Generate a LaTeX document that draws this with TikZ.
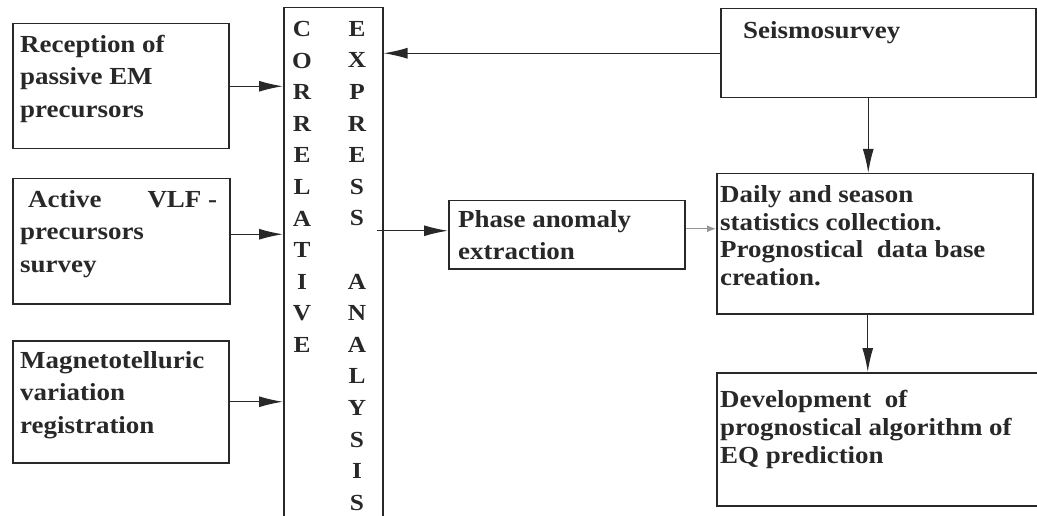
\documentclass[tikz,border=0pt]{standalone}
\usepackage{fontspec}
\setmainfont{Liberation Serif}[FakeStretch=1.1]
\usetikzlibrary{arrows.meta}
\definecolor{ink}{RGB}{40, 40, 40}
\definecolor{faint}{RGB}{150, 150, 150}
\tikzset{
  frame/.style={draw=ink, line width=1.5pt, anchor=north west, inner sep=0pt},
  txt/.style={anchor=north west, align=left, inner sep=0pt, text=ink,
    font=\bfseries\fontsize{24.5}{32.5}\selectfont},
  tight/.style={font=\bfseries\fontsize{24.5}{27.8}\selectfont},
  letters/.style={anchor=north, align=center, inner sep=0pt, text=ink,
    font=\bfseries\fontsize{23}{31.6}\selectfont},
  flow/.style={draw=ink, line width=1.3pt, -{Latex[length=24pt,width=11pt]}},
  faintflow/.style={draw=faint, line width=1.2pt, -{Latex[length=9pt,width=7pt]}},
}
\begin{document}
\begin{tikzpicture}[x=1pt, y=-1pt]
        \useasboundingbox (0,0) rectangle (1037,516);
        \clip (0,0) rectangle (1037,516);
        % frames
        \node[frame, minimum width=216pt, minimum height=125pt] (recep)   at (12,23)  {};
        \node[frame, minimum width=217pt, minimum height=125pt] (active)  at (12,178) {};
        \node[frame, minimum width=216pt, minimum height=122pt] (magneto) at (12,340) {};
        \node[frame, minimum width=99pt,  minimum height=530pt] (corr)    at (283,7)  {};
        \node[frame, minimum width=236pt, minimum height=68pt]  (phase)   at (448,200) {};
        \node[frame, minimum width=315pt, minimum height=89pt]  (seismo)  at (720,8)  {};
        \node[frame, minimum width=316pt, minimum height=140pt] (daily)   at (716,173) {};
        \node[frame, minimum width=340pt, minimum height=133pt] (devel)   at (716,372) {};
        % texts
        \node[txt] (recepT)   at (20,35)   {Reception of\\passive EM\\precursors};
        \node[txt] (activeT)  at (28,190)  {Active\hspace{46pt}VLF -\\\hspace{-8pt}precursors\\\hspace{-8pt}survey};
        \node[txt] (magnetoT) at (20,351)  {Magnetotelluric\\variation\\registration};
        \node[txt] (phaseT)   at (458,210) {Phase anomaly\\extraction};
        \node[txt] (seismoT)  at (743,21)  {Seismosurvey};
        \node[txt, tight] (dailyT) at (720,185) {Daily and season\\statistics collection.\\Prognostical\ \ data base\\creation.};
        \node[txt, tight] (develT) at (720,390) {Development\ \ of\\prognostical algorithm of\\EQ prediction};
        \node[letters] (corrT) at (302,21) {C\\O\\R\\R\\E\\L\\A\\T\\I\\V\\E};
        \node[letters] (exprT) at (357,21) {E\\X\\P\\R\\E\\S\\S\\[31.6pt]A\\N\\A\\L\\Y\\S\\I\\S};
        % connectors
        \draw[flow] (recep.east) -- (recep.east -| corr.west);
        \draw[flow] ([yshift=7pt]active.east) -- ([yshift=7pt]active.east -| corr.west);
        \draw[flow] (magneto.east) -- (magneto.east -| corr.west);
        \draw[flow] (seismo.west) -- (seismo.west -| corr.east);
        \draw[flow] ([xshift=-7pt,yshift=4pt]phase.west -| corr.east) -- ([yshift=4pt]phase.west);
        \draw[faintflow] ([yshift=6pt]phase.east) -- ([yshift=6pt]phase.east -| daily.west);
        \draw[flow] ([xshift=-10pt]seismo.south) -- ([xshift=-10pt]seismo.south |- daily.north);
        \draw[flow] ([xshift=-7pt]daily.south) -- ([xshift=-7pt]daily.south |- devel.north);
\end{tikzpicture}
\end{document}
